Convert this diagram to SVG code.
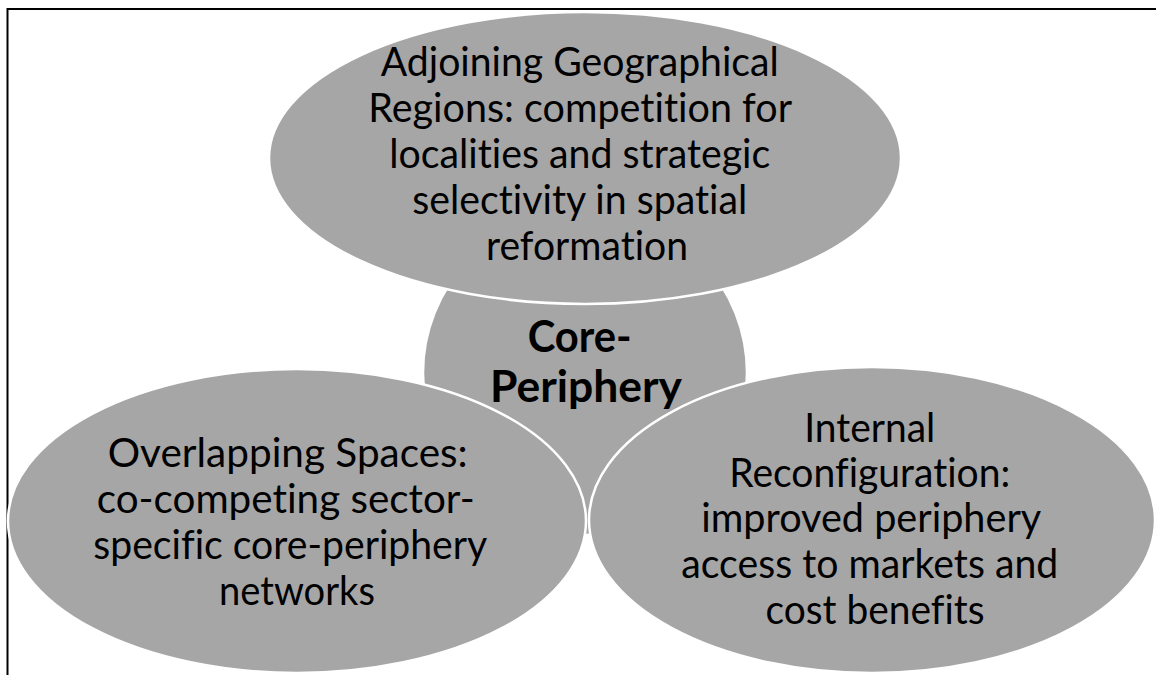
<svg xmlns="http://www.w3.org/2000/svg" width="1156" height="675" viewBox="0 0 1156 675">
  <style>
    .blob { fill: #a6a6a6; stroke: #ffffff; stroke-width: 2.5; }
    .label { font-family: Lato, "Open Sans", "Liberation Sans", sans-serif; font-size: 41px; fill: #000000; text-anchor: middle; font-variant-ligatures: none; }
    .hub { font-family: Lato, "Open Sans", "Liberation Sans", sans-serif; font-size: 44px; font-weight: bold; fill: #000000; text-anchor: middle; font-variant-ligatures: none; }
    .frame { fill: none; stroke: #000000; stroke-width: 2; }
  </style>
  <rect width="1156" height="675" fill="#ffffff"/>
  <!-- outer frame: only the top and left edges fall inside the canvas -->
  <path class="frame" d="M7.5,675 V9 H1156"/>

  <g id="connectors"/>

  <g id="node-core">
    <ellipse class="blob" cx="585" cy="373" rx="162" ry="162"/>
  </g>

  <g id="node-adjoining">
    <ellipse class="blob" cx="585" cy="158" rx="316" ry="146"/>
    <text class="label">
      <tspan x="585" y="76" textLength="398" lengthAdjust="spacingAndGlyphs">Adjoining Geographical</tspan>
      <tspan x="585" y="122" textLength="423" lengthAdjust="spacingAndGlyphs">Regions: competition for</tspan>
      <tspan x="585" y="168" textLength="381" lengthAdjust="spacingAndGlyphs">localities and strategic</tspan>
      <tspan x="585" y="214" textLength="335" lengthAdjust="spacingAndGlyphs">selectivity in spatial</tspan>
      <tspan x="587" y="260" textLength="202" lengthAdjust="spacingAndGlyphs">reformation</tspan>
    </text>
  </g>

  <g id="node-overlapping">
    <ellipse class="blob" cx="297" cy="521" rx="289" ry="152"/>
    <text class="label">
      <tspan x="293" y="467" textLength="360" lengthAdjust="spacingAndGlyphs">Overlapping Spaces:</tspan>
      <tspan x="291" y="513" textLength="378" lengthAdjust="spacingAndGlyphs">co-competing sector-</tspan>
      <tspan x="295" y="559" textLength="393" lengthAdjust="spacingAndGlyphs">specific core-periphery</tspan>
      <tspan x="297" y="605" textLength="156" lengthAdjust="spacingAndGlyphs">networks</tspan>
    </text>
  </g>

  <g id="node-internal">
    <ellipse class="blob" cx="872" cy="520" rx="283" ry="153"/>
    <text class="label">
      <tspan x="875" y="442" textLength="131" lengthAdjust="spacingAndGlyphs">Internal</tspan>
      <tspan x="875" y="487" textLength="281" lengthAdjust="spacingAndGlyphs">Reconfiguration:</tspan>
      <tspan x="876" y="532" textLength="339" lengthAdjust="spacingAndGlyphs">improved periphery</tspan>
      <tspan x="875" y="578" textLength="377" lengthAdjust="spacingAndGlyphs">access to markets and</tspan>
      <tspan x="875" y="624" textLength="219" lengthAdjust="spacingAndGlyphs">cost benefits</tspan>
    </text>
  </g>

  <!-- hub caption sits above all circles -->
  <g id="node-core-label">
    <text class="hub">
      <tspan x="585" y="352" textLength="104" lengthAdjust="spacingAndGlyphs">Core-</tspan>
      <tspan x="586" y="402" textLength="192" lengthAdjust="spacingAndGlyphs">Periphery</tspan>
    </text>
  </g>
</svg>
